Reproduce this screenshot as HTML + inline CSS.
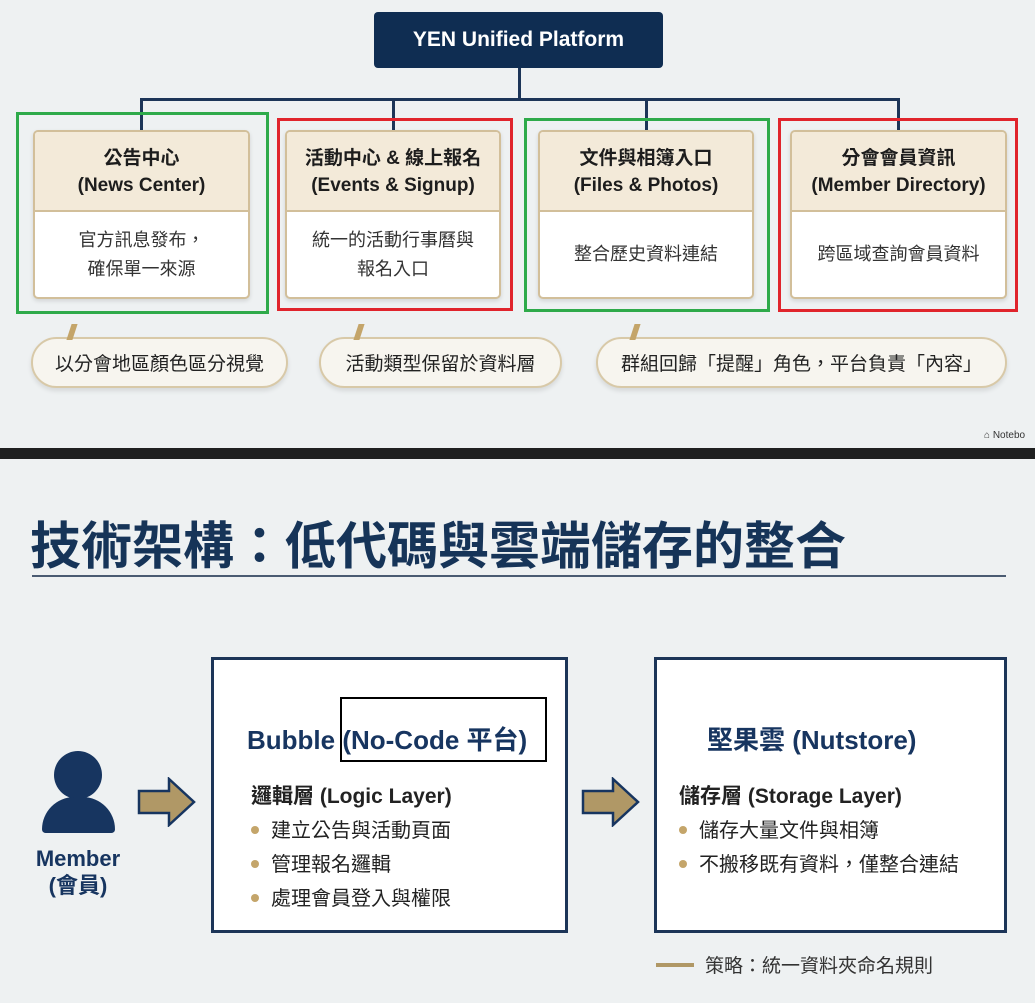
<!DOCTYPE html>
<html><head><meta charset="utf-8"><style>
*{margin:0;padding:0;box-sizing:border-box}
body{width:1035px;height:1003px;position:relative;overflow:hidden;background:#eef1f2;font-family:"Liberation Sans","Noto Sans CJK TC",sans-serif;color:#222}
.a{position:absolute}
.card{position:absolute;top:130px;height:169px;border:2px solid #d2bf9a;border-radius:5px;background:#fff;overflow:hidden;box-shadow:0 2px 4px rgba(0,0,0,.12)}
.card .h{height:80px;background:#f3ead9;border-bottom:2px solid #d2bf9a;text-align:center;font-weight:bold;font-size:19px;line-height:27px;padding-top:13px;color:#1d1d1d}
.card .b{text-align:center;font-size:18px;line-height:29px;color:#333;display:flex;align-items:center;justify-content:center;height:85px}
.ol{position:absolute;border:3px solid}
.pill{position:absolute;top:337px;height:51px;border:2px solid #d8c9a8;border-radius:26px;background:#f7f5ef;font-size:19px;display:flex;align-items:center;justify-content:center;color:#222;box-shadow:0 3px 5px rgba(0,0,0,.1)}
.sl{position:absolute;top:324px;width:6px;height:16px;background:#c4a56a;transform:skewX(-18deg)}
.box{position:absolute;top:657px;height:276px;border:3px solid #1c3558;background:#fff}
.li{font-size:20px;line-height:34px;color:#222}
.li:before{content:"";display:inline-block;width:8px;height:8px;border-radius:50%;background:#c4a56a;margin:0 12px 3px 0;vertical-align:middle}
</style></head><body>
<div class="a" style="left:374px;top:12px;width:289px;height:56px;background:#0f2d52;border-radius:4px;color:#fff;font-weight:bold;font-size:21px;text-align:center;line-height:56px">YEN Unified Platform</div>
<div class="a" style="left:518px;top:68px;width:3px;height:32px;background:#1c3558"></div>
<div class="a" style="left:140px;top:98px;width:760px;height:3px;background:#1c3558"></div>
<div class="a" style="left:140px;top:98px;width:3px;height:33px;background:#1c3558"></div>
<div class="a" style="left:392px;top:98px;width:3px;height:33px;background:#1c3558"></div>
<div class="a" style="left:645px;top:98px;width:3px;height:33px;background:#1c3558"></div>
<div class="a" style="left:897px;top:98px;width:3px;height:33px;background:#1c3558"></div>
<div class="card" style="left:33px;width:217px"><div class="h">公告中心<br>(News Center)</div><div class="b">官方訊息發布，<br>確保單一來源</div></div>
<div class="card" style="left:285px;width:216px"><div class="h">活動中心 &amp; 線上報名<br>(Events &amp; Signup)</div><div class="b">統一的活動行事曆與<br>報名入口</div></div>
<div class="card" style="left:538px;width:216px"><div class="h">文件與相簿入口<br>(Files &amp; Photos)</div><div class="b">整合歷史資料連結</div></div>
<div class="card" style="left:790px;width:217px"><div class="h">分會會員資訊<br>(Member Directory)</div><div class="b">跨區域查詢會員資料</div></div>
<div class="ol" style="left:16px;top:112px;width:253px;height:202px;border-color:#2eaa4a"></div>
<div class="ol" style="left:277px;top:118px;width:236px;height:193px;border-color:#e0242c"></div>
<div class="ol" style="left:524px;top:118px;width:246px;height:194px;border-color:#2eaa4a"></div>
<div class="ol" style="left:778px;top:118px;width:240px;height:194px;border-color:#e0242c"></div>
<div class="pill" style="left:31px;width:257px">以分會地區顏色區分視覺</div>
<div class="pill" style="left:319px;width:243px">活動類型保留於資料層</div>
<div class="pill" style="left:596px;width:411px">群組回歸「提醒」角色，平台負責「內容」</div>
<div class="sl" style="left:69px"></div><div class="sl" style="left:356px"></div><div class="sl" style="left:632px"></div>
<div class="a" style="left:984px;top:430px;font-size:10px;color:#333">⌂ Notebo</div>
<div class="a" style="left:0;top:448px;width:1035px;height:11px;background:#1f2020"></div>
<div class="a" style="left:0;top:459px;width:1035px;height:544px;background:#eef1f2"></div>
<div class="a" style="left:30px;top:505px;font-size:51px;font-weight:bold;color:#163458;white-space:nowrap">技術架構：低代碼與雲端儲存的整合</div>
<div class="a" style="left:32px;top:575px;width:974px;height:2px;background:#4a5b72"></div>
<div class="a" style="left:54px;top:751px;width:48px;height:48px;border-radius:50%;background:#173560"></div>
<div class="a" style="left:42px;top:797px;width:73px;height:36px;border-radius:36px 36px 4px 4px;background:#173560"></div>
<div class="a" style="left:18px;top:845px;width:120px;text-align:center;font-size:22px;font-weight:bold;color:#173560;line-height:27px">Member<br>(會員)</div>
<svg class="a" style="left:137px;top:777px" width="60" height="50"><polygon points="2,14 32,14 32,2 57,25 32,48 32,36 2,36" fill="#b09866" stroke="#173560" stroke-width="2.5"/></svg>
<svg class="a" style="left:581px;top:777px" width="60" height="50"><polygon points="2,14 32,14 32,2 57,25 32,48 32,36 2,36" fill="#b09866" stroke="#173560" stroke-width="2.5"/></svg>
<div class="box" style="left:211px;width:357px">
<div class="a" style="left:33px;top:60px;font-size:26px;font-weight:bold;color:#173560;white-space:nowrap">Bubble (No-Code 平台)</div>
<div class="a" style="left:37px;top:120px;font-size:21px;font-weight:bold;white-space:nowrap">邏輯層 (Logic Layer)</div>
<div class="a" style="left:37px;top:154px"><div class="li">建立公告與活動頁面</div><div class="li">管理報名邏輯</div><div class="li">處理會員登入與權限</div></div>
</div>
<div class="a" style="left:340px;top:697px;width:207px;height:65px;border:2.5px solid #000"></div>
<div class="box" style="left:654px;width:353px">
<div class="a" style="left:50px;top:60px;font-size:26px;font-weight:bold;color:#173560;white-space:nowrap">堅果雲 (Nutstore)</div>
<div class="a" style="left:22px;top:120px;font-size:21px;font-weight:bold;white-space:nowrap">儲存層 (Storage Layer)</div>
<div class="a" style="left:22px;top:154px"><div class="li">儲存大量文件與相簿</div><div class="li">不搬移既有資料，僅整合連結</div></div>
</div>
<div class="a" style="left:656px;top:963px;width:38px;height:4px;background:#b09866"></div>
<div class="a" style="left:705px;top:951px;font-size:19px;color:#333;white-space:nowrap">策略：統一資料夾命名規則</div>
</body></html>
